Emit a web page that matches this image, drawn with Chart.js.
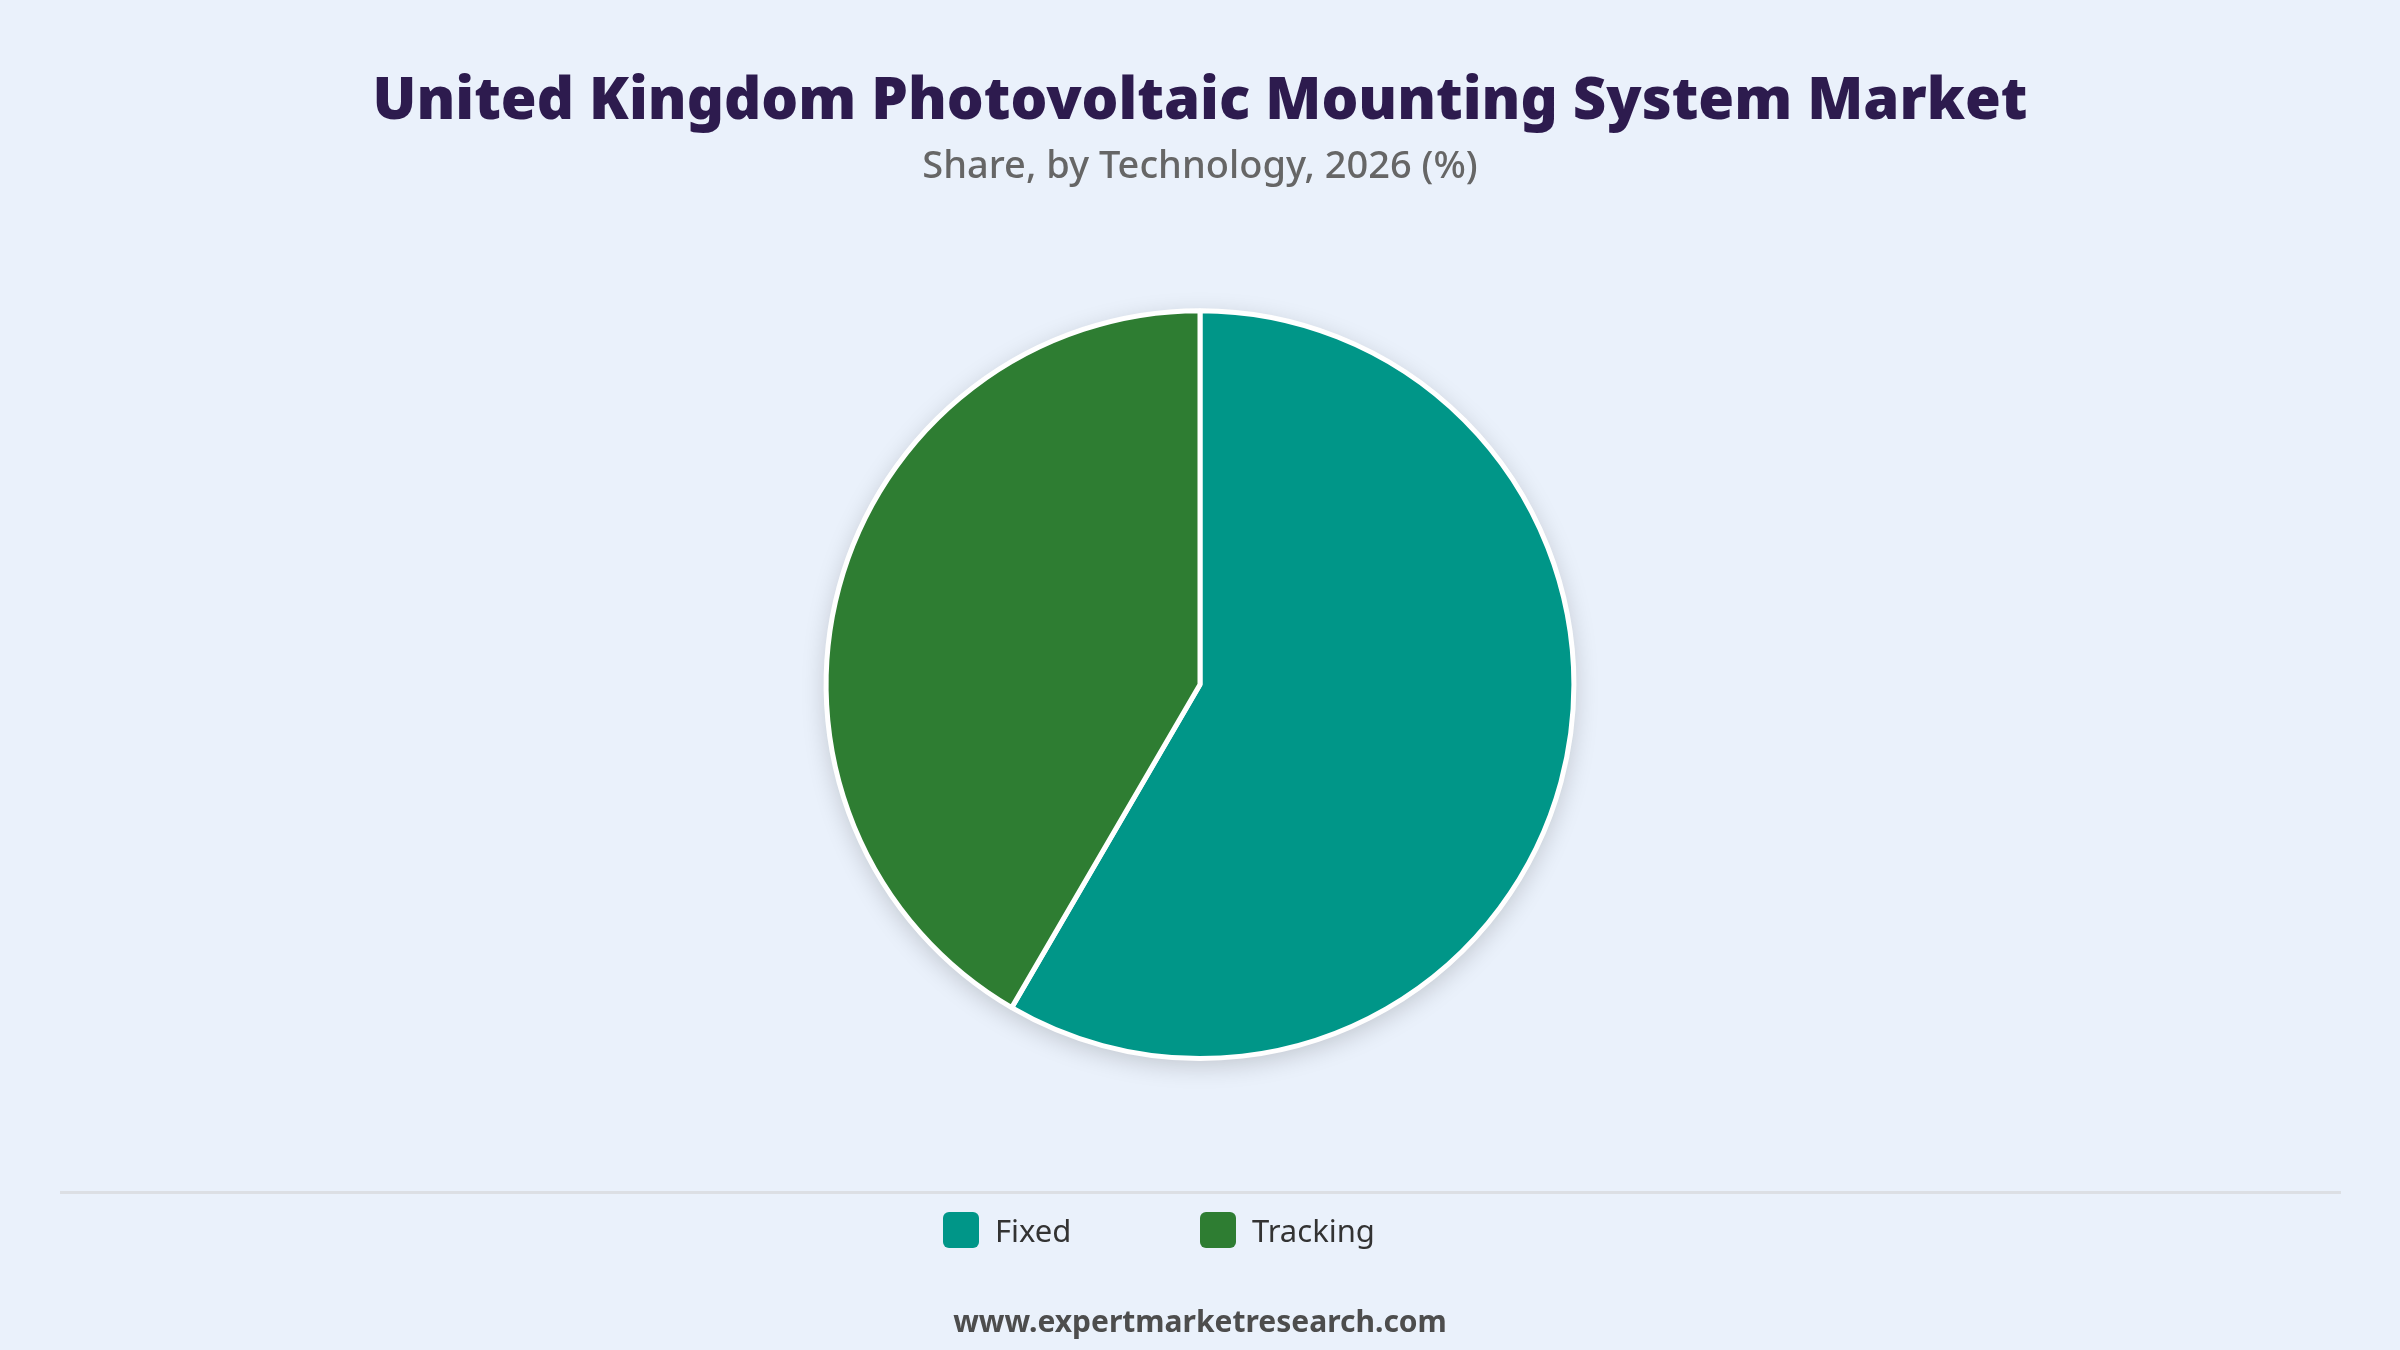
<!DOCTYPE html>
<html>
<head>
<meta charset="utf-8">
<script src="https://cdn.jsdelivr.net/npm/chart.js@4"></script>
<style>
  html, body { margin: 0; padding: 0; }
  body { width: 2400px; height: 1350px; background: #EAF1FB; position: relative; overflow: hidden; font-family: "Noto Sans", "Open Sans", sans-serif; }
  #wrap { position: absolute; left: 0; top: 0; width: 2400px; height: 1350px; }
  #sep { position: absolute; left: 60px; width: 2281px; top: 1191px; height: 3px; background: #DCDFE4; }
  #legend { position: absolute; left: 943px; top: 1212px; display: flex; align-items: center; }
  .li { display: flex; align-items: center; width: 257px; }
  .box { width: 36px; height: 36px; border-radius: 6px; margin-right: 16px; }
  .lt { font-size: 31px; color: #333; line-height: 36px; }
  #footer { position: absolute; left: 0; width: 2400px; top: 1301px; text-align: center; font-size: 30px; font-weight: 700; color: #4D4D4D; line-height: 40px; }
</style>
</head>
<body>
<div id="wrap"><canvas id="c" width="2400" height="1350"></canvas></div>
<div id="sep"></div>
<div id="legend"></div>
<div id="footer">www.expertmarketresearch.com</div>
<script>
const titleText = "United Kingdom Photovoltaic Mounting System Market";
const subtitleText = "Share, by Technology, 2026 (%)";
const categories = ["Fixed", "Tracking"];
const shares = [58.4, 41.6];
const colors = ["#009688", "#2E7D32"];

// HTML legend built from the data arrays
const legendEl = document.getElementById("legend");
categories.forEach((name, i) => {
  const item = document.createElement("div");
  item.className = "li";
  const b = document.createElement("div");
  b.className = "box";
  b.style.background = colors[i];
  const t = document.createElement("span");
  t.className = "lt";
  t.textContent = name;
  item.appendChild(b);
  item.appendChild(t);
  legendEl.appendChild(item);
});

const shadowPlugin = {
  id: "pieShadow",
  beforeDatasetsDraw(chart) {
    const meta = chart.getDatasetMeta(0);
    if (!meta.data.length) return;
    const arc = meta.data[0];
    const ctx = chart.ctx;
    ctx.save();
    ctx.shadowColor = "rgba(0,0,0,0.18)";
    ctx.shadowBlur = 24;
    ctx.shadowOffsetX = 0;
    ctx.shadowOffsetY = 6;
    ctx.fillStyle = "#ffffff";
    ctx.beginPath();
    ctx.arc(arc.x, arc.y, arc.outerRadius + 1, 0, Math.PI * 2);
    ctx.fill();
    ctx.restore();
  }
};

new Chart(document.getElementById("c"), {
  type: "pie",
  data: {
    labels: categories,
    datasets: [{
      data: shares,
      backgroundColor: colors,
      borderColor: "#ffffff",
      borderWidth: 5,
      hoverBorderWidth: 5,
      hoverOffset: 0
    }]
  },
  options: {
    responsive: false,
    animation: false,
    layout: { padding: { top: 0, bottom: 289, left: 0, right: 0 } },
    plugins: {
      legend: { display: false },
      tooltip: { enabled: false },
      title: {
        display: true,
        text: titleText,
        color: "#2D1B4E",
        font: { family: "'Noto Sans', sans-serif", size: 58, weight: 900 },
        padding: { top: 68, bottom: 0 }
      },
      subtitle: {
        display: true,
        text: subtitleText,
        color: "#666666",
        font: { family: "'Noto Sans', sans-serif", size: 38, weight: 500 },
        padding: { top: 7, bottom: 118 }
      }
    }
  },
  plugins: [shadowPlugin]
});
</script>
</body>
</html>
